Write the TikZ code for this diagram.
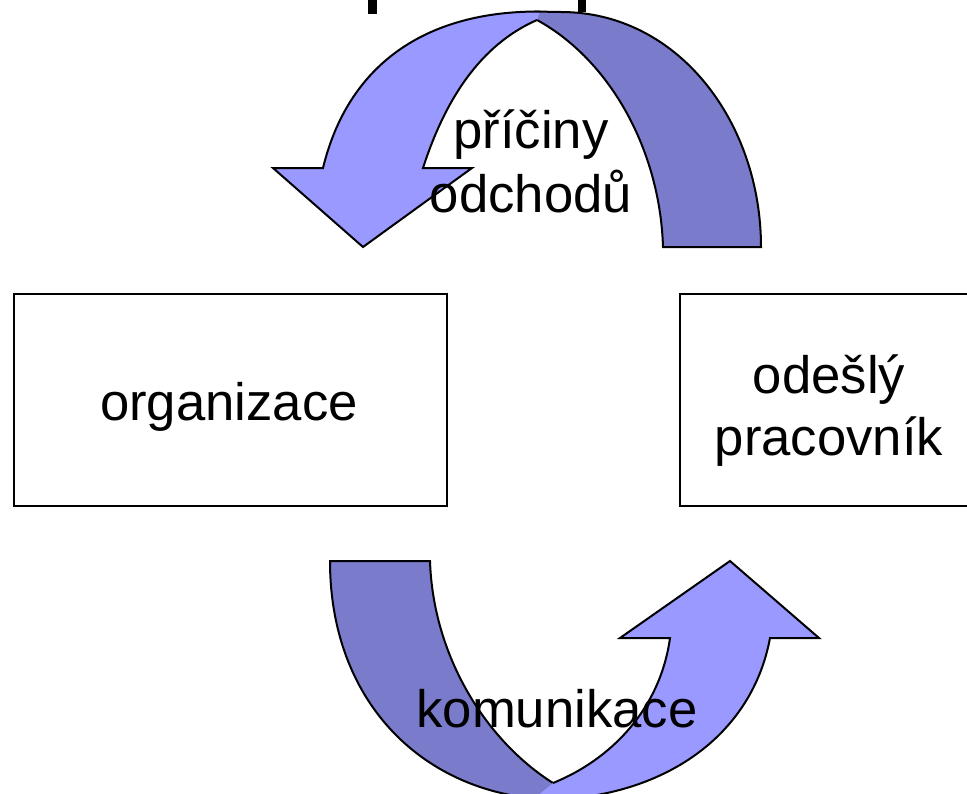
\documentclass[tikz,border=0pt]{standalone}
\usepackage{fontspec}
\setmainfont{Liberation Sans}
\definecolor{lightarrow}{HTML}{9999FF}
\definecolor{darkarrow}{HTML}{7B7BCC}
\tikzset{
  boxnode/.style={draw=black, line width=1.5pt, rectangle, inner sep=0pt},
  lbl/.style={font=\fontsize{39.5}{48}\selectfont, align=center, inner sep=0pt, anchor=base},
  lightshape/.style={fill=lightarrow, draw=black, line width=1.5pt, line join=miter},
  darkshape/.style={fill=darkarrow, draw=black, line width=1.5pt, line join=miter},
}
\begin{document}
\begin{tikzpicture}[x=0.75pt,y=-0.75pt]
\useasboundingbox (0,0) rectangle (967,793);
\clip (0,0) rectangle (967,793);

% fragments of cut-off title
\fill (368,0) rectangle (377,14);
\fill (578,0) rectangle (586,12);

% boxes
\node[boxnode, minimum width=324.75pt, minimum height=159pt] (org) at (230.5,400) {};
\node[boxnode, minimum width=223.5pt, minimum height=159pt] (prac) at (829,400) {};

% top curved arrow: dark back part
\path[darkshape] (534,11.5) -- (561,12) .. controls (678,12) and (761,122) .. (761,247)
  -- (663,247) .. controls (660,150) and (610,60) .. (537,20);
% top curved arrow: light front part with head
\path[lightshape] (537,20) .. controls (480,45) and (445,100) .. (423,168)
  -- (472,168) -- (363,247) -- (273,168) -- (323,168)
  .. controls (348,65) and (425,11) .. (540,11.5);

% bottom curved arrow: dark back part
\path[darkshape] (575,805) -- (540,799) .. controls (420,790) and (330,700) .. (330,561)
  -- (430,561) .. controls (433,655) and (485,740) .. (553,783);
% bottom curved arrow: light front part with head
\path[lightshape] (553,783) .. controls (610,760) and (660,710) .. (670,638)
  -- (620,638) -- (730,561) -- (819,638) -- (770,638)
  .. controls (752,735) and (665,798) .. (545,800) -- (530,802);

% labels
\node[lbl] (orgtxt) at (229,420) {organizace};
\node[lbl, font=\fontsize{39.5}{46.5}\selectfont] (practxt) at (829,455) {odešlý\\pracovník};
\node[lbl] (pricintxt) at (531,212) {příčiny\\odchodů};
\node[lbl] (komtxt) at (557,727) {komunikace};
\end{tikzpicture}
\end{document}
